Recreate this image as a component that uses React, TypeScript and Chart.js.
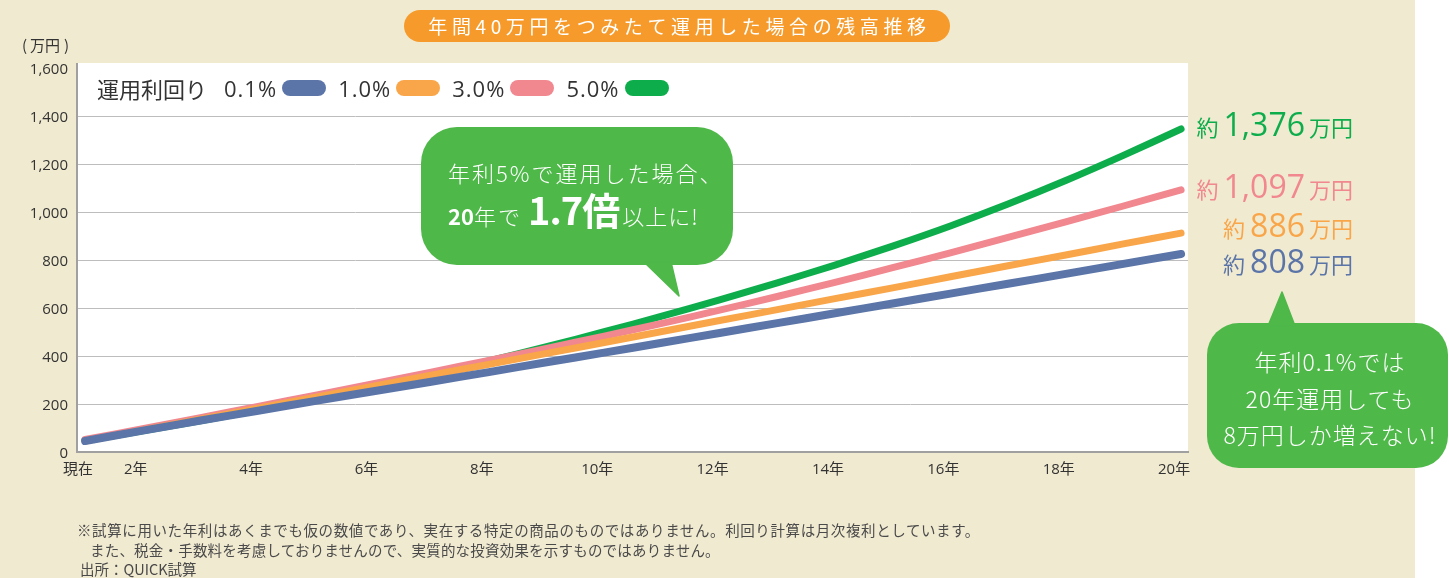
import React, { useEffect, useRef } from 'react';
import { Chart, registerables } from 'chart.js';

Chart.register(...registerables);

// ---- data ----
const years = [1, 2, 3, 4, 5, 6, 7, 8, 9, 10, 11, 12, 13, 14, 15, 16, 17, 18, 19, 20];
const rate01 = [46, 89, 131, 172, 213, 253, 293, 333, 374, 414, 455, 496, 537, 578, 619, 660, 701, 742, 784, 825];
const rate10 = [46, 91, 137, 183, 228, 274, 320, 365, 411, 456, 502, 548, 593, 639, 684, 730, 776, 821, 867, 912];
const rate30 = [52, 97, 143, 190, 237, 285, 333, 382, 432, 483, 536, 591, 648, 707, 768, 830, 894, 959, 1025, 1092];
const rate50 = [48, 88, 130, 174, 221, 271, 324, 380, 439, 501, 566, 634, 705, 779, 858, 942, 1033, 1131, 1236, 1346];
const rateLabels = ['0.1%', '1.0%', '3.0%', '5.0%'];
const seriesColors = ['#5b75a8', '#f9a64a', '#f1878f', '#0ead4c'];
const yTickValues = [0, 200, 400, 600, 800, 1000, 1200, 1400, 1600];
const xTickYears = [1, 2, 4, 6, 8, 10, 12, 14, 16, 18, 20];
const xTickLabels = ['現在', '2年', '4年', '6年', '8年', '10年', '12年', '14年', '16年', '18年', '20年'];
const endLabelValues = ['1,376', '1,097', '886', '808'];
const endLabelColors = ['#0ead4c', '#f1878f', '#f9a64a', '#5b75a8'];

const TICK_FONT = "'Open Sans', 'Noto Sans CJK JP', sans-serif";
const JP = "'Noto Sans CJK JP', sans-serif";
const NUM = "'Open Sans', 'Noto Sans CJK JP', sans-serif";

const plotBg = {
  id: 'plotBg',
  beforeDraw(chart: any) {
    const { ctx, chartArea: a } = chart;
    ctx.save();
    ctx.fillStyle = '#ffffff';
    ctx.fillRect(a.left, a.top - 5, a.right - a.left, a.bottom - a.top + 5);
    ctx.fillStyle = '#a0a0a0';
    ctx.fillRect(a.left - 1, a.top - 5, 2, 6);
    ctx.restore();
  },
};

export default function App() {
  const canvasRef = useRef<HTMLCanvasElement | null>(null);

  useEffect(() => {
    document.body.style.margin = '0';
    const canvas = canvasRef.current;
    if (!canvas) return;
    const series = [rate01, rate10, rate30, rate50];
    const chart = new Chart(canvas, {
      type: 'line',
      data: {
        datasets: series.map((vals, i) => ({
          label: rateLabels[i],
          data: years.map((x, j) => ({ x, y: vals[j] })),
          borderColor: seriesColors[i],
          backgroundColor: seriesColors[i],
          borderWidth: i === 0 ? 8 : 7,
          borderCapStyle: 'round',
          borderJoinStyle: 'round',
          pointRadius: 0,
          pointHoverRadius: 0,
          tension: 0.3,
          fill: false,
          clip: false,
        })),
      },
      options: {
        animation: false,
        responsive: false,
        maintainAspectRatio: false,
        devicePixelRatio: 1,
        layout: { padding: { left: 0, right: 261, top: 68, bottom: 0 } },
        plugins: {
          legend: { display: false },
          tooltip: { enabled: false },
          title: { display: false },
        },
        scales: {
          x: {
            type: 'linear',
            min: 0.86,
            max: 20.12,
            afterBuildTicks: (s: any) => {
              s.ticks = xTickYears.map((v) => ({ value: v }));
            },
            afterFit: (s: any) => {
              s.height = 126;
            },
            grid: { display: false, drawTicks: false },
            border: { display: true, color: '#a0a0a0', width: 2 },
            ticks: {
              autoSkip: false,
              maxRotation: 0,
              minRotation: 0,
              padding: 9,
              labelOffset: -7,
              color: '#333333',
              font: { family: TICK_FONT, size: 15 },
              callback: (_v: any, i: number) => xTickLabels[i],
            },
          },
          y: {
            type: 'linear',
            min: 0,
            max: 1600,
            afterBuildTicks: (s: any) => {
              s.ticks = yTickValues.map((v) => ({ value: v }));
            },
            afterFit: (s: any) => {
              s.width = 77;
            },
            grid: {
              drawTicks: false,
              lineWidth: 1,
              color: (ctx: any) => (ctx.tick && ctx.tick.value === 1600 ? 'rgba(0,0,0,0)' : '#bdbdbd'),
            },
            border: { display: true, color: '#a0a0a0', width: 2 },
            ticks: {
              padding: 9,
              labelOffset: 2,
              color: '#333333',
              font: { family: TICK_FONT, size: 15 },
              callback: (v: any) => Number(v).toLocaleString('en-US'),
            },
          },
        },
      } as any,
      plugins: [plotBg],
    } as any);
    return () => chart.destroy();
  }, []);

  const legendOrder = [0, 1, 2, 3];
  const endRows = [
    { idx: 0, top: 108 },
    { idx: 1, top: 170 },
    { idx: 2, top: 209 },
    { idx: 3, top: 245 },
  ];

  return (
    <div style={{ position: 'relative', width: 1449, height: 578, background: '#ffffff', overflow: 'hidden', fontFamily: JP }}>
      <div style={{ position: 'absolute', left: 0, top: 0, width: 1415, height: 578, background: '#f0ead0' }} />
      <canvas ref={canvasRef} width={1449} height={578} style={{ position: 'absolute', left: 0, top: 0, width: 1449, height: 578 }} />

      {/* title pill */}
      <div
        style={{
          position: 'absolute', left: 404, top: 10, width: 546, height: 32, borderRadius: 16,
          background: '#f69b2b', color: '#ffffff', fontSize: 19, lineHeight: '32px', letterSpacing: 4.6,
          textAlign: 'center', paddingLeft: 5, boxSizing: 'border-box', whiteSpace: 'nowrap', fontFamily: JP,
        }}
      >
        年間40万円をつみたて運用した場合の残高推移
      </div>

      {/* unit */}
      <div style={{ position: 'absolute', left: 22, top: 35, fontSize: 15, lineHeight: '20px', color: '#333', fontFamily: JP, display: 'flex', whiteSpace: 'nowrap' }}>
        <span>(</span>
        <span style={{ marginLeft: 3, marginRight: 4 }}>万円</span>
        <span>)</span>
      </div>

      {/* legend */}
      <div style={{ position: 'absolute', left: 97, top: 74, height: 28, display: 'flex', alignItems: 'center', color: '#333', whiteSpace: 'nowrap' }}>
        <span style={{ fontSize: 22, fontFamily: JP, lineHeight: '28px' }}>運用利回り</span>
        {legendOrder.map((i) => (
          <span key={i} style={{ display: 'flex', alignItems: 'center', marginLeft: i === 0 ? 17 : 12 }}>
            <span style={{ fontSize: 22, fontFamily: NUM, lineHeight: '28px', letterSpacing: 1 }}>{rateLabels[i]}</span>
            <span style={{ display: 'inline-block', marginLeft: 5, width: 44, height: 16, borderRadius: 8, background: seriesColors[i] }} />
          </span>
        ))}
      </div>

      {/* bubbles */}
      <svg width={1449} height={578} style={{ position: 'absolute', left: 0, top: 0, pointerEvents: 'none' }}>
        <rect x={421} y={127} width={312} height={138} rx={36} ry={36} fill="#4eb849" />
        <polygon points="644,262 671,262 679,296" fill="#4eb849" strokeLinejoin="round" stroke="#4eb849" strokeWidth={1.5} />
        <rect x={1207} y={323} width={241} height={145} rx={32} ry={32} fill="#4eb849" />
        <polygon points="1268,326 1295,326 1282,292" fill="#4eb849" strokeLinejoin="round" stroke="#4eb849" strokeWidth={1.5} />
      </svg>

      <div style={{ position: 'absolute', left: 448, top: 158, fontSize: 22, lineHeight: '28px', color: '#fff', fontWeight: 300, letterSpacing: 2, whiteSpace: 'nowrap', fontFamily: JP }}>
        年利5%で運用した場合、
      </div>
      <div style={{ position: 'absolute', left: 448, top: 190, display: 'flex', alignItems: 'baseline', color: '#fff', whiteSpace: 'nowrap', fontFamily: JP }}>
        <span style={{ fontSize: 22, lineHeight: 1, fontWeight: 700 }}>20</span>
        <span style={{ fontSize: 22, lineHeight: 1, fontWeight: 300, letterSpacing: 2 }}>年で</span>
        <span style={{ fontSize: 38, lineHeight: 1, fontWeight: 700, marginLeft: 6, letterSpacing: -1 }}>1.7倍</span>
        <span style={{ fontSize: 22, lineHeight: 1, fontWeight: 300, marginLeft: 3, letterSpacing: 1 }}>以上に!</span>
      </div>

      <div style={{ position: 'absolute', left: 1210, top: 343, width: 240, textAlign: 'center', fontSize: 23, lineHeight: '36.5px', color: '#fff', fontWeight: 300, letterSpacing: 1, whiteSpace: 'nowrap', fontFamily: JP }}>
        <div>年利0.1%では</div>
        <div>20年運用しても</div>
        <div>8万円しか増えない!</div>
      </div>

      {/* end labels */}
      {endRows.map((r) => (
        <div
          key={r.idx}
          style={{ position: 'absolute', right: 96, top: r.top, display: 'flex', alignItems: 'baseline', color: endLabelColors[r.idx], whiteSpace: 'nowrap' }}
        >
          <span style={{ fontSize: 22, lineHeight: 1, fontFamily: JP }}>約</span>
          <span style={{ fontSize: 32, lineHeight: 1, fontFamily: NUM, fontWeight: 500, marginLeft: 5 }}>{endLabelValues[r.idx]}</span>
          <span style={{ fontSize: 22, lineHeight: 1, fontFamily: JP, marginLeft: 4 }}>万円</span>
        </div>
      ))}

      {/* footnotes */}
      <div style={{ position: 'absolute', left: 77, top: 520, fontSize: 14.5, lineHeight: '20px', color: '#4a4a4a', letterSpacing: 0.6, whiteSpace: 'nowrap', fontFamily: JP }}>
        ※試算に用いた年利はあくまでも仮の数値であり、実在する特定の商品のものではありません。利回り計算は月次複利としています。
      </div>
      <div style={{ position: 'absolute', left: 90, top: 540, fontSize: 14.5, lineHeight: '20px', color: '#4a4a4a', letterSpacing: 0.2, whiteSpace: 'nowrap', fontFamily: JP }}>
        また、税金・手数料を考慮しておりませんので、実質的な投資効果を示すものではありません。
      </div>
      <div style={{ position: 'absolute', left: 80, top: 559, fontSize: 14.5, lineHeight: '20px', color: '#4a4a4a', whiteSpace: 'nowrap', fontFamily: JP }}>
        出所：QUICK試算
      </div>
    </div>
  );
}
